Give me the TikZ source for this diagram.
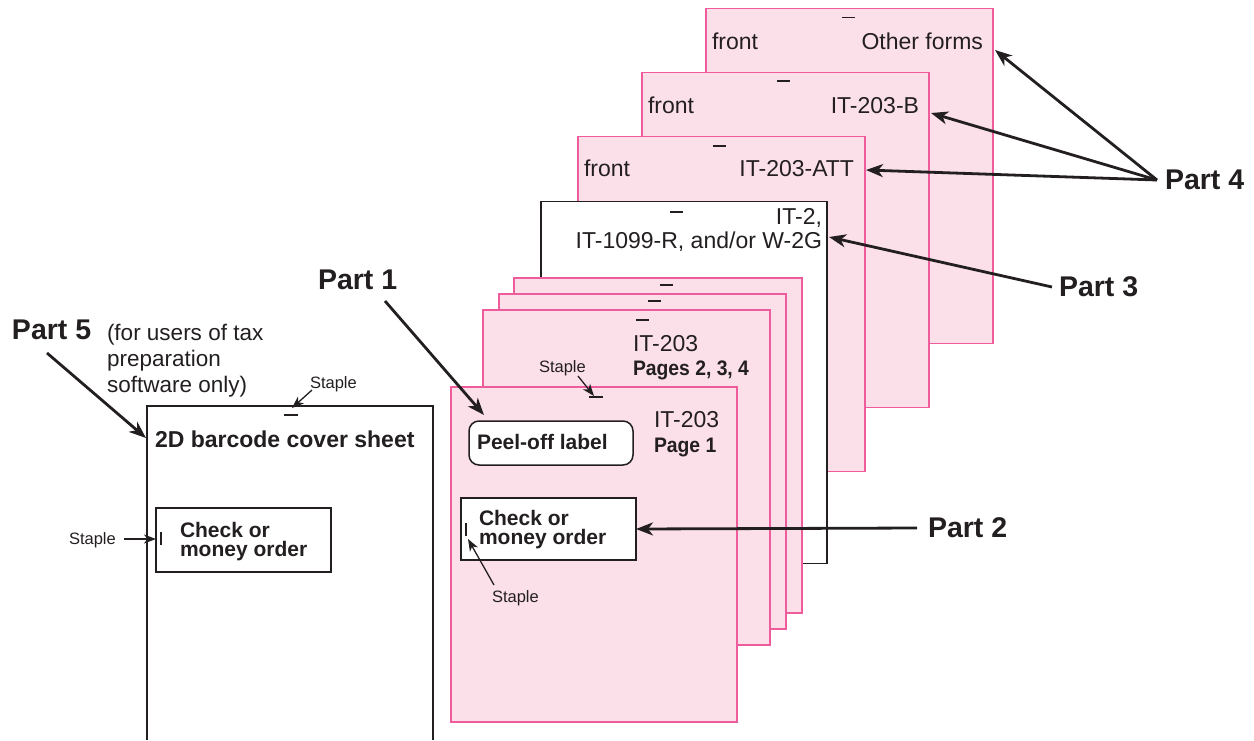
\documentclass[tikz,border=0pt]{standalone}
\usepackage{fontspec}
\usepackage{graphicx}
\setmainfont{Liberation Sans}
\usetikzlibrary{arrows.meta}
\definecolor{pinkfill}{RGB}{252,224,233}
\definecolor{pinkline}{RGB}{238,92,156}
\definecolor{ink}{RGB}{35,31,32}
\tikzset{
  sheet/.style={draw=pinkline, fill=pinkfill, line width=1.5pt, minimum width=287pt, minimum height=335pt, anchor=north west, inner sep=0pt, outer sep=0pt},
  whitesheet/.style={sheet, draw=ink, fill=white},
  boxed/.style={draw=ink, fill=white, line width=1.5pt, anchor=north west, inner sep=0pt, outer sep=0pt},
  txt/.style={inner sep=0pt, outer sep=0pt, text=ink},
  big/.style={txt, font=\fontsize{23}{26}\selectfont},
  bold/.style={txt, font=\fontsize{21}{19}\selectfont\bfseries},
  part/.style={txt, font=\fontsize{28.5}{30}\selectfont\bfseries},
  small/.style={txt, font=\fontsize{16.5}{18}\selectfont},
  staplemark/.style={draw=ink, line width=1.5pt},
  bigarrow/.style={draw=ink, line width=2.8pt, -{Stealth[length=17pt,width=13pt,inset=5pt]}},
  smallarrow/.style={draw=ink, line width=1.3pt, -{Stealth[length=12pt,width=9pt,inset=3.5pt]}},
}
\newcommand{\cond}[1]{\scalebox{0.92}[1]{#1}}
\begin{document}
\begin{tikzpicture}[x=1pt,y=-1pt]
\useasboundingbox (0,0) rectangle (1254,740);
% ---------- back stack ----------
\node[sheet] (pgOther) at (706,8.7) {};
\draw[staplemark] (842,17.7) -- ++(13,0);
\node[big, anchor=base west] (frOther) at (712,49) {front};
\node[big, anchor=base east] (tOther) at (983,49) {Other forms};

\node[sheet] (pgB) at (642,72.3) {};
\draw[staplemark] (777,81) -- ++(13,0);
\node[big, anchor=base west] (frB) at (648,113) {front};
\node[big, anchor=base east] (tB) at (919,113) {IT-203-B};

\node[sheet] (pgATT) at (578,136.3) {};
\draw[staplemark] (713,146) -- ++(13,0);
\node[big, anchor=base west] (frATT) at (584,176) {front};
\node[big, anchor=base east] (tATT) at (854,176) {IT-203-ATT};

\node[whitesheet, minimum height=362pt, minimum width=286pt] (pgIT2) at (541,201.7) {};
\draw[staplemark] (670,212) -- ++(13,0);
\node[big, anchor=base east] (tIT2a) at (822,224) {IT-2,};
\node[big, anchor=base east] (tIT2b) at (822,248) {IT-1099-R, and/or W-2G};

\node[sheet, minimum width=288pt] (pgA) at (514,278) {};
\draw[staplemark] (660,285) -- ++(13,0);
\node[sheet] (pgBB) at (499,294) {};
\draw[staplemark] (648,301) -- ++(13,0);
\node[sheet] (pgC) at (483,310) {};
\draw[staplemark] (636,320) -- ++(13,0);
\node[big, anchor=base west] (t234) at (633,351) {IT-203};
\node[bold, anchor=base west] (p234) at (633,375) {\cond{Pages 2, 3, 4}};

% ---------- front page ----------
\node[sheet, minimum width=286pt] (pg1) at (451,387) {};
\draw[staplemark] (589,397) -- ++(14,0);
\node[big, anchor=base west] (t1) at (654,427) {IT-203};
\node[bold, anchor=base west] (p1) at (654,452) {\cond{Page 1}};
\node[boxed, rounded corners=10pt, minimum width=164pt, minimum height=44pt] (peel) at (469,421) {};
\node[bold, anchor=base west] (peelt) at (477,449) {Peel-off label};
\node[boxed, minimum width=175pt, minimum height=62pt] (chk1) at (461,498) {};
\node[bold, anchor=base west] (chk1a) at (479,525.5) {Check or};
\node[bold, anchor=base west] (chk1b) at (479,544.5) {money order};
\draw[staplemark] (466,523) -- (466,536);
\node[small, anchor=base west] (st1top) at (539,372) {Staple};
\node[small, anchor=base west] (st1chk) at (492,602) {Staple};
\coordinate (st1topA) at (578,376);
\coordinate (st1topB) at (594,396);
\coordinate (st1chkA) at (494,585);
\coordinate (st1chkB) at (468,539);
\draw[smallarrow] (st1topA) -- (st1topB);
\draw[smallarrow] (st1chkA) -- (st1chkB);

% ---------- cover sheet ----------
\node[inner sep=0pt, outer sep=0pt, minimum width=286pt, minimum height=334pt, anchor=north west] (cover) at (147,406) {};
\draw[ink, line width=1.5pt] (cover.south west) -- (cover.north west) -- (cover.north east) -- (cover.south east);
\draw[staplemark] (284,415) -- ++(14,0);
\node[txt, font=\fontsize{23}{26}\selectfont\bfseries, anchor=base west] (covt) at (155,447) {2D barcode cover sheet};
\node[boxed, minimum width=175pt, minimum height=64pt] (chk5) at (156,508) {};
\node[bold, anchor=base west] (chk5a) at (180,537) {Check or};
\node[bold, anchor=base west] (chk5b) at (180,556) {money order};
\draw[staplemark] (161,532) -- (161,545);
\node[small, anchor=base west] (st5top) at (310,388) {Staple};
\node[small, anchor=base west] (st5chk) at (69,544) {Staple};
\coordinate (st5topA) at (312,390);
\coordinate (st5topB) at (292,408);
\coordinate (st5chkA) at (124,539);
\coordinate (st5chkB) at (156,539);
\draw[smallarrow] (st5topA) -- (st5topB);
\draw[smallarrow] (st5chkA) -- (st5chkB);

% ---------- part labels ----------
\node[part, anchor=base west] (part5) at (12,339) {Part 5};
\node[big, anchor=base west, font=\fontsize{22.5}{26}\selectfont] (note5a) at (107,340) {(for users of tax};
\node[big, anchor=base west, font=\fontsize{22.5}{26}\selectfont] (note5b) at (107,366) {preparation};
\node[big, anchor=base west, font=\fontsize{22.5}{26}\selectfont] (note5c) at (107,392) {software only)};
\node[part, anchor=base west] (part1) at (318,289) {Part 1};
\node[part, anchor=base west] (part2) at (928,537) {Part 2};
\node[part, anchor=base west] (part3) at (1059,296) {Part 3};
\node[part, anchor=base west] (part4) at (1165,189) {Part 4};

\coordinate (a5s) at (47,353);
\coordinate (a5e) at (146,438);
\coordinate (a1s) at (385,301);
\coordinate (a1e) at (484,415);
\coordinate (a2s) at (917,528);
\coordinate (a3s) at (1052,287);
\coordinate (a3e) at (829,237);
\coordinate (a4s) at (1157,180);
\coordinate (a4att) at (866,170);
\coordinate (a4b) at (931,113);
\coordinate (a4o) at (995,50);

\draw[bigarrow] (a5s) -- (a5e);
\draw[bigarrow] (a1s) -- (a1e);
\draw[bigarrow] (a2s) -- (chk1.east);
\draw[bigarrow] (a3s) -- (a3e);
\draw[bigarrow] (a4s) -- (a4att);
\draw[bigarrow] (a4s) -- (a4b);
\draw[bigarrow] (a4s) -- (a4o);
\end{tikzpicture}
\end{document}
